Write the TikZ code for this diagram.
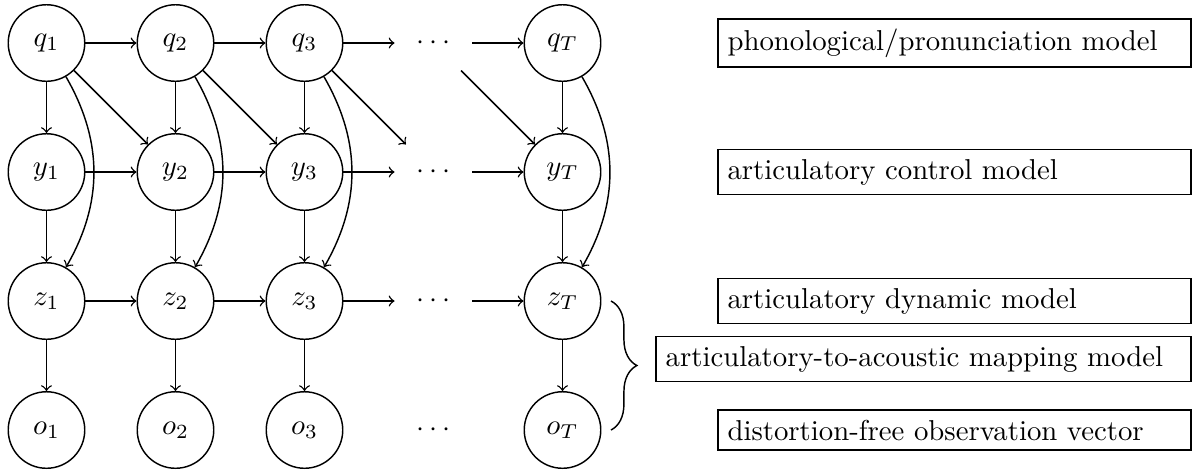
\documentclass[tikz,border=0pt]{standalone}
\usetikzlibrary{decorations.pathreplacing}
\begin{document}
\begin{tikzpicture}
[
   x=44.84pt, y=44.84pt, line width=0.5pt,
   var/.style={circle,draw,minimum size=26.6pt,inner sep=0pt},
   dotsnode/.style={circle,minimum size=26.6pt,inner sep=0pt},
   modelbox/.style={draw,anchor=east,text width=157.7pt,align=left},
   widebox/.style={modelbox,text width=179.2pt}
]
\useasboundingbox (-16.16pt,14.95pt) rectangle (400.6pt,-148.1pt);

% variables, one row per layer
\foreach \r/\j in {q/0,y/1,z/2,o/3} {
  \foreach \c/\i in {1/0,2/1,3/2}
    \node[var] (\r\c) at (\i,-\j) {$\r_\c$};
  \node[dotsnode] (\r dots) at (3,-\j) {$\cdots$};
  \node[var] (\r T) at (4,-\j) {$\r_T$};
}

% transitions in time
\foreach \r in {q,y,z} {
  \draw[->] (\r1) -- (\r2);
  \draw[->] (\r2) -- (\r3);
  \draw[->] (\r3) -- (\r dots);
  \draw[->] (\r dots) -- (\r T);
}

% dependencies between layers
\foreach \c in {1,2,3,T} {
  \draw[->] (q\c) -- (y\c);
  \draw[->] (y\c) -- (z\c);
  \draw[->] (z\c) -- (o\c);
  \draw[->] (q\c) to[bend left=30] (z\c);
}
\draw[->] (q1) -- (y2);
\draw[->] (q2) -- (y3);
\draw[->] (q3) -- (ydots);
\draw[->] (qdots) -- (yT);

% model descriptions
\node[modelbox] (phon) at (398pt,0) {phonological/pronunciation model};
\node[modelbox] (ctrl) at (398pt,-1) {articulatory control model};
\node[modelbox] (dyn) at (398pt,-2) {articulatory dynamic model};
\node[widebox] (map) at (398pt,-2.45) {articulatory-to-acoustic mapping model};
\node[modelbox] (obs) at (398pt,-3) {distortion-free observation vector};

\draw[decorate,decoration={brace,amplitude=9pt}]
  ([xshift=3.3pt]zT.east) -- ([xshift=3.3pt]oT.east);
\end{tikzpicture}
\end{document}
